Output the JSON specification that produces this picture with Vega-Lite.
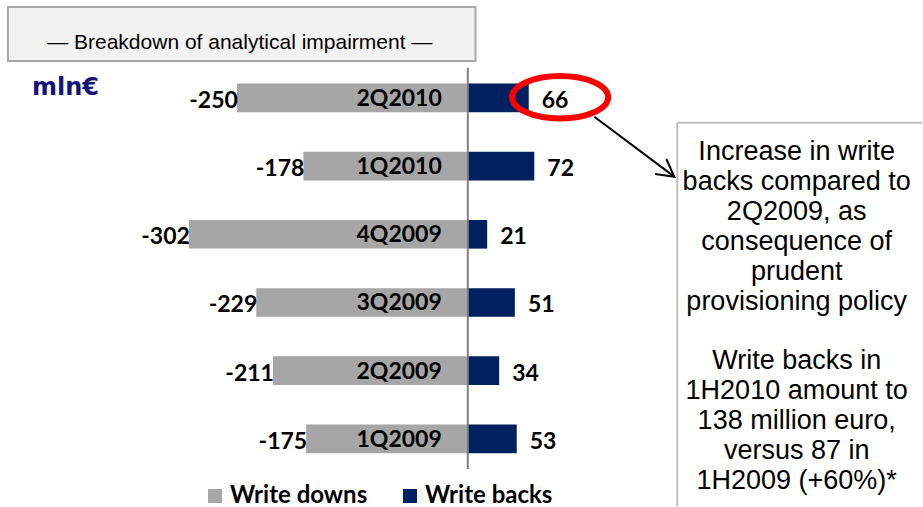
{
  "$schema": "https://vega.github.io/schema/vega-lite/v6.json",
  "width": 923,
  "height": 507,
  "autosize": {"type": "fit", "contains": "padding"},
  "padding": 0,
  "background": "white",
  "config": {"view": {"stroke": null}},
  "resolve": {"scale": {"y": "independent"}},
  "layer": [
    {
      "data": {
        "values": [
          {"quarter": "2Q2010", "type": "Write downs", "value": -250},
          {"quarter": "2Q2010", "type": "Write backs", "value": 66},
          {"quarter": "1Q2010", "type": "Write downs", "value": -178},
          {"quarter": "1Q2010", "type": "Write backs", "value": 72},
          {"quarter": "4Q2009", "type": "Write downs", "value": -302},
          {"quarter": "4Q2009", "type": "Write backs", "value": 21},
          {"quarter": "3Q2009", "type": "Write downs", "value": -229},
          {"quarter": "3Q2009", "type": "Write backs", "value": 51},
          {"quarter": "2Q2009", "type": "Write downs", "value": -211},
          {"quarter": "2Q2009", "type": "Write backs", "value": 34},
          {"quarter": "1Q2009", "type": "Write downs", "value": -175},
          {"quarter": "1Q2009", "type": "Write backs", "value": 53}
        ]
      },
      "encoding": {
        "y": {
          "field": "quarter",
          "type": "nominal",
          "sort": ["2Q2010", "1Q2010", "4Q2009", "3Q2009", "2Q2009", "1Q2009"],
          "scale": {"type": "band", "paddingInner": 0.58, "paddingOuter": 1.051, "align": 0.6129},
          "axis": null
        }
      },
      "layer": [
        {
          "mark": {"type": "bar"},
          "encoding": {
            "x": {"field": "value", "type": "quantitative", "stack": null, "scale": {"domain": [-506.5, 491.8], "nice": false, "zero": false}, "axis": null},
            "color": {
              "field": "type",
              "type": "nominal",
              "scale": {"domain": ["Write downs", "Write backs"], "range": ["#a6a6a6", "#002060"]},
              "legend": {
                "orient": "none",
                "legendX": 203,
                "legendY": 484,
                "direction": "horizontal",
                "title": null,
                "symbolType": "square",
                "symbolSize": 196,
                "symbolStrokeWidth": 0,
                "labelFont": "Lato",
                "labelFontWeight": "bold",
                "labelFontSize": 24,
                "labelColor": "#000000",
                "labelOffset": 3,
                "labelLimit": 300,
                "columnPadding": 30,
                "padding": 0
              }
            }
          }
        },
        {
          "transform": [{"filter": "datum.type === 'Write downs'"}],
          "mark": {"type": "text", "align": "right", "baseline": "middle", "dx": -26, "dy": 1, "font": "Lato", "fontWeight": "bold", "fontSize": 23, "color": "#000000"},
          "encoding": {
            "x": {"datum": 0, "type": "quantitative", "scale": {"domain": [-506.5, 491.8], "nice": false, "zero": false}, "axis": null},
            "text": {"field": "quarter", "type": "nominal"}
          }
        },
        {
          "transform": [{"filter": "datum.value < 0"}],
          "mark": {"type": "text", "align": "right", "baseline": "middle", "dx": 1, "dy": 3, "font": "Lato", "fontWeight": "bold", "fontSize": 23, "color": "#000000"},
          "encoding": {
            "x": {"field": "value", "type": "quantitative", "scale": {"domain": [-506.5, 491.8], "nice": false, "zero": false}, "axis": null},
            "text": {"field": "value", "type": "nominal"}
          }
        },
        {
          "transform": [{"filter": "datum.value > 0"}],
          "mark": {"type": "text", "align": "left", "baseline": "middle", "dx": 13, "dy": 3, "font": "Lato", "fontWeight": "bold", "fontSize": 23, "color": "#000000"},
          "encoding": {
            "x": {"field": "value", "type": "quantitative", "scale": {"domain": [-506.5, 491.8], "nice": false, "zero": false}, "axis": null},
            "text": {"field": "value", "type": "nominal"}
          }
        }
      ]
    },
    {
      "data": {"values": [{}]},
      "layer": [
        {
          "mark": {"type": "rect", "fill": "#f2f2f2", "stroke": "#a6a6a6", "strokeWidth": 2},
          "encoding": {
            "x": {"datum": -497.9, "type": "quantitative", "scale": {"domain": [-506.5, 491.8], "nice": false, "zero": false}, "axis": null},
            "x2": {"datum": 8.33},
            "y": {"datum": -1.3947, "type": "quantitative", "scale": {"domain": [-1.4985, 6.0237], "nice": false, "zero": false, "reverse": true}, "axis": null},
            "y2": {"datum": -0.5935}
          }
        },
        {
          "mark": {"type": "text", "align": "center", "baseline": "alphabetic", "font": "Liberation Sans", "fontSize": 21, "color": "#000000"},
          "encoding": {
            "x": {"datum": -246.9, "type": "quantitative", "scale": {"domain": [-506.5, 491.8], "nice": false, "zero": false}, "axis": null},
            "y": {"datum": -0.775, "type": "quantitative", "scale": {"domain": [-1.4985, 6.0237], "nice": false, "zero": false, "reverse": true}, "axis": null},
            "text": {"value": "— Breakdown of analytical impairment  —"}
          }
        },
        {
          "mark": {"type": "text", "align": "left", "baseline": "alphabetic", "font": "DejaVu Sans", "fontWeight": "bold", "fontSize": 24, "color": "#141478"},
          "encoding": {
            "x": {"datum": -471.9, "type": "quantitative", "scale": {"domain": [-506.5, 491.8], "nice": false, "zero": false}, "axis": null},
            "y": {"datum": -0.089, "type": "quantitative", "scale": {"domain": [-1.4985, 6.0237], "nice": false, "zero": false, "reverse": true}, "axis": null},
            "text": {"value": "mln€"}
          }
        },
        {
          "mark": {"type": "rule", "color": "#808080", "strokeWidth": 2},
          "encoding": {
            "x": {"datum": 0, "type": "quantitative", "scale": {"domain": [-506.5, 491.8], "nice": false, "zero": false}, "axis": null},
            "y": {"datum": -0.4896, "type": "quantitative", "scale": {"domain": [-1.4985, 6.0237], "nice": false, "zero": false, "reverse": true}, "axis": null},
            "y2": {"datum": 5.4748}
          }
        },
        {
          "mark": {"type": "point", "shape": "M -1 0 A 1 0.4417 0 1 1 1 0 A 1 0.4417 0 1 1 -1 0 Z", "size": 9216, "filled": false, "stroke": "#ff0000", "strokeWidth": 6, "opacity": 1},
          "encoding": {
            "x": {"datum": 100.05, "type": "quantitative", "scale": {"domain": [-506.5, 491.8], "nice": false, "zero": false}, "axis": null},
            "y": {"datum": -0.052, "type": "quantitative", "scale": {"domain": [-1.4985, 6.0237], "nice": false, "zero": false, "reverse": true}, "axis": null}
          }
        },
        {
          "mark": {"type": "rule", "color": "#000000", "strokeWidth": 2},
          "encoding": {
            "x": {"datum": 137.0, "type": "quantitative", "scale": {"domain": [-506.5, 491.8], "nice": false, "zero": false}, "axis": null},
            "x2": {"datum": 223.6},
            "y": {"datum": 0.2374, "type": "quantitative", "scale": {"domain": [-1.4985, 6.0237], "nice": false, "zero": false, "reverse": true}, "axis": null},
            "y2": {"datum": 1.1276}
          }
        },
        {
          "mark": {"type": "point", "shape": "M -1 -0.55 L 0 0 L -1 0.55", "size": 1156, "filled": false, "stroke": "#000000", "strokeWidth": 2, "angle": 36.87, "opacity": 1},
          "encoding": {
            "x": {"datum": 223.6, "type": "quantitative", "scale": {"domain": [-506.5, 491.8], "nice": false, "zero": false}, "axis": null},
            "y": {"datum": 1.1276, "type": "quantitative", "scale": {"domain": [-1.4985, 6.0237], "nice": false, "zero": false, "reverse": true}, "axis": null}
          }
        },
        {
          "mark": {"type": "rule", "color": "#bfbfbf", "strokeWidth": 2},
          "encoding": {
            "x": {"datum": 226.8, "type": "quantitative", "scale": {"domain": [-506.5, 491.8], "nice": false, "zero": false}, "axis": null},
            "y": {"datum": 0.3264, "type": "quantitative", "scale": {"domain": [-1.4985, 6.0237], "nice": false, "zero": false, "reverse": true}, "axis": null},
            "y2": {"datum": 6.0237}
          }
        },
        {
          "mark": {"type": "rule", "color": "#bfbfbf", "strokeWidth": 2},
          "encoding": {
            "x": {"datum": 226.8, "type": "quantitative", "scale": {"domain": [-506.5, 491.8], "nice": false, "zero": false}, "axis": null},
            "x2": {"datum": 491.8},
            "y": {"datum": 0.3264, "type": "quantitative", "scale": {"domain": [-1.4985, 6.0237], "nice": false, "zero": false, "reverse": true}, "axis": null}
          }
        },
        {
          "mark": {"type": "text", "align": "center", "baseline": "alphabetic", "font": "Liberation Sans", "fontSize": 27, "lineHeight": 29.9, "color": "#000000"},
          "encoding": {
            "x": {"datum": 356.1, "type": "quantitative", "scale": {"domain": [-506.5, 491.8], "nice": false, "zero": false}, "axis": null},
            "y": {"datum": 0.8858, "type": "quantitative", "scale": {"domain": [-1.4985, 6.0237], "nice": false, "zero": false, "reverse": true}, "axis": null},
            "text": {"value": ["Increase in write", "backs compared to", "2Q2009, as", "consequence of", "prudent", "provisioning policy"]}
          }
        },
        {
          "mark": {"type": "text", "align": "center", "baseline": "alphabetic", "font": "Liberation Sans", "fontSize": 27, "lineHeight": 29.9, "color": "#000000"},
          "encoding": {
            "x": {"datum": 356.1, "type": "quantitative", "scale": {"domain": [-506.5, 491.8], "nice": false, "zero": false}, "axis": null},
            "y": {"datum": 3.991, "type": "quantitative", "scale": {"domain": [-1.4985, 6.0237], "nice": false, "zero": false, "reverse": true}, "axis": null},
            "text": {"value": ["Write backs in", "1H2010 amount to", "138 million euro,", "versus 87 in", "1H2009 (+60%)*"]}
          }
        }
      ]
    }
  ]
}
